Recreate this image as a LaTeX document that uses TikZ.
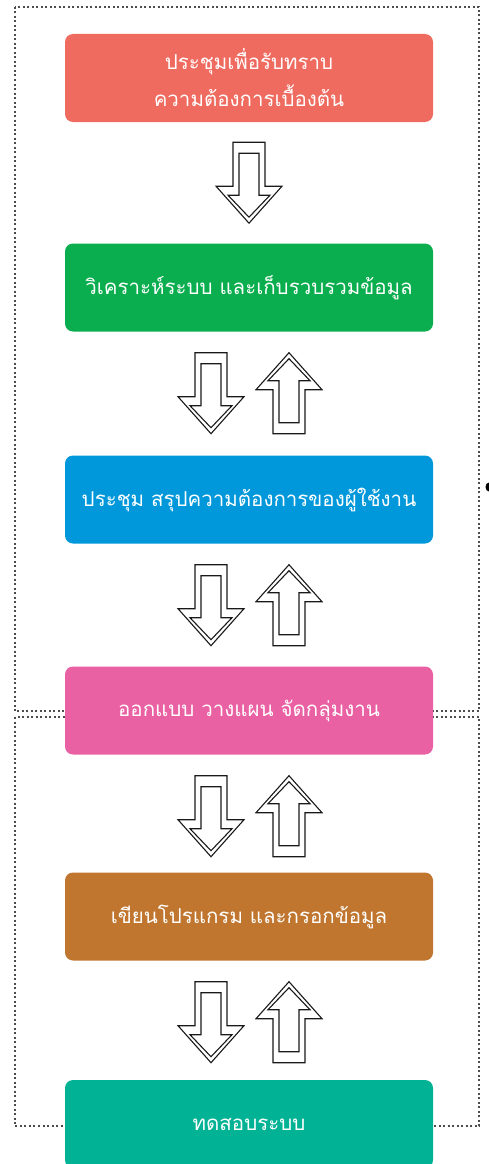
\documentclass[tikz,border=0pt]{standalone}
\usepackage{fontspec}
\usepackage{tikz}
\usetikzlibrary{calc}
\newfontfamily\thaifont[Script=Thai]{Loma}

\definecolor{boxred}{HTML}{EF6B5F}
\definecolor{boxgreen}{HTML}{0BAE4E}
\definecolor{boxblue}{HTML}{0098DA}
\definecolor{boxpink}{HTML}{EA61A3}
\definecolor{boxbrown}{HTML}{C0762E}
\definecolor{boxteal}{HTML}{02B294}

\tikzset{
	frame/.style={dash pattern=on 2pt off 2.5pt, line width=1.1pt, black!70},
	stepbox/.style={rectangle, rounded corners=8pt, minimum width=368pt, minimum height=88pt,
		text=white, align=center, font=\thaifont\fontsize{20.5}{37}\selectfont},
	arrline/.style={line width=1.1pt, black!90, line join=miter},
	downarr/.pic={
		\draw[arrline] (-16,0) -- (16,0) -- (16,44) -- (33,44) -- (0,81) -- (-33,44) -- (-16,44) -- cycle;
		\draw[arrline] (-10,11) -- (10,11) -- (10,53) -- (21,53) -- (0,75) -- (-21,53) -- (-10,53) -- cycle;
	},
	uparr/.pic={
		\draw[arrline] (-16,81) -- (16,81) -- (16,37) -- (33,37) -- (0,0) -- (-33,37) -- (-16,37) -- cycle;
		\draw[arrline] (-10,70) -- (10,70) -- (10,28) -- (21,28) -- (0,6) -- (-21,28) -- (-10,28) -- cycle;
	}
}

\begin{document}
\begin{tikzpicture}[x=1pt,y=-1pt]
\useasboundingbox (0,0) rectangle (488,1164);

% Rahmen
\draw[frame] (15,7) rectangle (479,711);
\draw[frame] (15,717) rectangle (479,1126);

\foreach \i/\y/\col/\txt in {1/78/boxred/{ประชุมเพื่อรับทราบ\\ความต้องการเบื้องต้น},
	2/287.5/boxgreen/{วิเคราะห์ระบบ และเก็บรวบรวมข้อมูล},
	3/499.5/boxblue/{ประชุม สรุปความต้องการของผู้ใช้งาน},
	4/710.5/boxpink/{ออกแบบ วางแผน จัดกลุ่มงาน},
	5/916.5/boxbrown/{เขียนโปรแกรม และกรอกข้อมูล},
	6/1124/boxteal/{ทดสอบระบบ}}{
	\node[stepbox, fill=\col] (b\i) at (249,\y) {\txt};
}

% Pfeile
\pic at ($(b1.south)+(0,20)$) {downarr};
\foreach \i in {2,...,5}{
	\pic at ($(b\i.south)+(-38,21)$) {downarr};
	\pic at ($(b\i.south)+(40,21)$) {uparr};
}

\fill (489,487) ellipse (3.5 and 4.5);

\end{tikzpicture}
\end{document}
